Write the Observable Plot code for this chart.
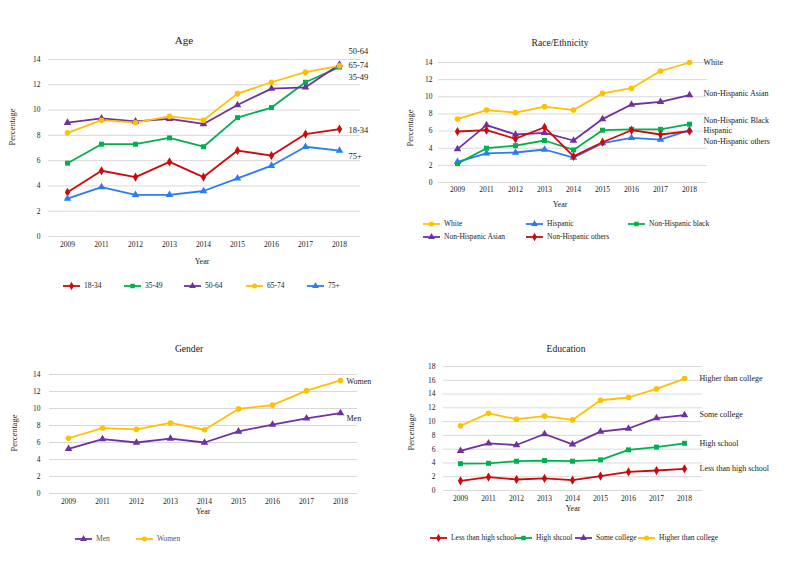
<!DOCTYPE html>
<html><head><meta charset="utf-8">
<script src="https://cdn.jsdelivr.net/npm/d3@7"></script>
<script src="https://cdn.jsdelivr.net/npm/@observablehq/plot@0.6"></script>
<style>
body{margin:0;background:#fff;}
#root{position:relative;width:800px;height:578px;font-family:"Liberation Serif","Times New Roman",serif;color:#1a1a1a;overflow:hidden;}
.abs{position:absolute;white-space:nowrap;transform:translate(-50%,-50%);line-height:1;}
.rot{transform:translate(-50%,-50%) rotate(-90deg);}
.panel{position:absolute;}
.leg{position:absolute;white-space:nowrap;line-height:1;font-size:7.5px;transform:translateY(-50%);}
</style></head>
<body><div id="root"></div>
<script>
const years = ["2009","2011","2012","2013","2014","2015","2016","2017","2018"];

const ageGroups = ["18-34","35-49","50-64","65-74","75+"];
const age18to34 = [3.5,5.2,4.7,5.9,4.7,6.8,6.4,8.1,8.5];
const age35to49 = [5.8,7.3,7.3,7.8,7.1,9.4,10.2,12.2,13.4];
const age50to64 = [9.0,9.35,9.1,9.3,8.9,10.4,11.7,11.8,13.6];
const age65to74 = [8.2,9.2,9.0,9.5,9.2,11.3,12.2,13.0,13.5];
const age75plus = [3.0,3.9,3.3,3.3,3.6,4.6,5.6,7.1,6.8];

const raceGroups = ["White","Hispanic","Non-Hispanic black","Non-Hispanic Asian","Non-Hispanic others"];
const raceLabels = ["White","Hispanic","Non-Hispanic Black","Non-Hispanic Asian","Non-Hispanic others"];
const raceWhite = [7.4,8.45,8.15,8.85,8.45,10.4,11.0,13.0,14.0];
const raceHispanic = [2.4,3.4,3.5,3.85,2.9,4.6,5.2,5.0,6.1];
const raceBlack = [2.2,4.0,4.3,4.9,3.8,6.1,6.2,6.2,6.8];
const raceAsian = [3.9,6.7,5.6,5.8,4.9,7.4,9.1,9.4,10.2];
const raceOthers = [5.95,6.1,5.1,6.45,3.05,4.7,6.1,5.6,6.0];

const genderGroups = ["Men","Women"];
const genderMen = [5.25,6.4,6.0,6.45,6.0,7.3,8.1,8.85,9.45];
const genderWomen = [6.5,7.7,7.55,8.3,7.5,9.95,10.4,12.1,13.3];

const eduGroups = ["Less than high school","High shcool","Some college","Higher than college"];
const eduLabels = ["Less than high school","High school","Some college","Higher than college"];
const eduLess = [1.4,1.95,1.6,1.75,1.5,2.1,2.7,2.9,3.15];
const eduHigh = [3.9,3.95,4.25,4.35,4.25,4.45,5.9,6.3,6.85];
const eduSome = [5.75,6.85,6.6,8.2,6.7,8.55,9.0,10.5,10.95];
const eduHigher = [9.4,11.2,10.35,10.8,10.25,13.1,13.5,14.75,16.25];

// styles
const RED="#CC0A0A", GREEN="#00B050", PURPLE="#7030A0", YELLOW="#FFC000", BLUE="#2B7BF5";
const FONT='"Liberation Serif","Times New Roman",serif';

const root = document.getElementById("root");

function makePanel(cfg) {
  const rows = [];
  cfg.series.forEach((s, i) => cfg.values[i].forEach((v, j) => rows.push({series: s, year: years[j], value: v})));
  const n = years.length;
  const labelMarks = cfg.series.map((s, i) => Plot.text(
    [{series: s, label: cfg.labels[i], year: years[n - 1], value: cfg.values[i][n - 1]}],
    {x: "year", y: "value", text: "label", textAnchor: "start", dx: cfg.labelDx, dy: cfg.labelDy[i],
     fontSize: cfg.labelFont, fill: "#1a1a1a"}));
  const yTicks = d3.range(0, cfg.yMax + 1, 2);
  const svg = Plot.plot({
    width: 400, height: cfg.height,
    marginTop: cfg.mt, marginBottom: cfg.mb, marginLeft: cfg.ml, marginRight: cfg.mr,
    style: {fontFamily: FONT, fontSize: "7.5px", color: "#1a1a1a", background: "transparent", overflow: "visible"},
    x: {type: "point", domain: years, range: cfg.xRange, padding: 0, label: null, tickSize: 0, tickPadding: cfg.xPad},
    y: {domain: [0, cfg.yMax], ticks: yTicks, label: null, tickSize: 0, tickPadding: cfg.yPad},
    color: {domain: cfg.series, range: cfg.colors},
    symbol: {domain: cfg.series, range: cfg.symbols},
    marks: [
      Plot.ruleY(yTicks, {stroke: "#d9d9d9", strokeWidth: 1}),
      Plot.line(rows, {x: "year", y: "value", z: "series", stroke: "series", strokeWidth: 1.8}),
      Plot.dot(rows, {x: "year", y: "value", fill: "series", symbol: "series", r: 2.8, stroke: "none"}),
      ...labelMarks
    ]
  });
  const div = document.createElement("div");
  div.className = "panel";
  div.style.left = cfg.left + "px";
  div.style.top = cfg.top + "px";
  div.appendChild(svg);
  root.appendChild(div);
}

function addText(txt, x, y, size, cls) {
  const d = document.createElement("div");
  d.className = "abs" + (cls ? " " + cls : "");
  d.style.left = x + "px"; d.style.top = y + "px"; d.style.fontSize = size + "px";
  d.textContent = txt;
  root.appendChild(d);
}

const symMap = {circle: d3.symbolCircle, square: d3.symbolSquare, triangle: d3.symbolTriangle, diamond: d3.symbolDiamond};
function addLegend(items, colors, symbols, positions, textColor) {
  items.forEach((name, i) => {
    const [x, y] = positions[i];
    const ns = "http://www.w3.org/2000/svg";
    const s = document.createElementNS(ns, "svg");
    s.setAttribute("width", 18); s.setAttribute("height", 10);
    s.style.position = "absolute"; s.style.left = x + "px"; s.style.top = (y - 5) + "px";
    const l = document.createElementNS(ns, "line");
    l.setAttribute("x1", 0); l.setAttribute("x2", 17); l.setAttribute("y1", 5); l.setAttribute("y2", 5);
    l.setAttribute("stroke", colors[i]); l.setAttribute("stroke-width", 1.8);
    s.appendChild(l);
    const p = document.createElementNS(ns, "path");
    p.setAttribute("d", d3.symbol(symMap[symbols[i]], 20)());
    p.setAttribute("transform", "translate(8.5,5)");
    p.setAttribute("fill", colors[i]);
    s.appendChild(p);
    root.appendChild(s);
    const t = document.createElement("div");
    t.className = "leg";
    t.style.left = (x + 21) + "px"; t.style.top = y + "px";
    if (textColor) t.style.color = textColor;
    t.textContent = name;
    root.appendChild(t);
  });
}

// Age
const ageColors = [RED, GREEN, PURPLE, YELLOW, BLUE];
const ageSymbols = ["diamond", "square", "triangle", "circle", "triangle"];
makePanel({
  series: ageGroups, labels: ageGroups,
  values: [age18to34, age35to49, age50to64, age65to74, age75plus],
  colors: ageColors, symbols: ageSymbols,
  left: 0, top: 0, height: 260, mt: 59, mb: 24, ml: 48, mr: 40,
  xRange: [66, 339], yMax: 14, yPad: 8, xPad: 5.5,
  labelDx: 9, labelDy: [1.5, 10, -13, -1, 6], labelFont: 8.5
});
addText("Age", 184, 40, 11);
addText("Year", 202, 262, 8);
addText("Percentage", 13, 127, 8.4, "rot");
addLegend(ageGroups, ageColors, ageSymbols, [[63,286],[124,286],[184,286],[246,286],[307,286]]);

// Race/Ethnicity
const raceColors = [YELLOW, BLUE, GREEN, PURPLE, RED];
const raceSymbols = ["circle", "triangle", "square", "triangle", "diamond"];
makePanel({
  series: raceGroups, labels: raceLabels,
  values: [raceWhite, raceHispanic, raceBlack, raceAsian, raceOthers],
  colors: raceColors, symbols: raceSymbols,
  left: 400, top: 0, height: 200, mt: 62, mb: 18, ml: 38, mr: 93,
  xRange: [53, 292], yMax: 14, yPad: 6, xPad: 4.5,
  labelDx: 14, labelDy: [0, 0, -4, -2, 10], labelFont: 8
});
addText("Race/Ethnicity", 560, 43, 9.6);
addText("Year", 560, 205, 8);
addText("Percentage", 411, 128, 8.4, "rot");
addLegend(raceGroups, raceColors, raceSymbols, [[423,224],[526,224],[628,224],[423,237],[526,237]]);

// Gender
const genderColors = [PURPLE, YELLOW];
const genderSymbols = ["triangle", "circle"];
makePanel({
  series: genderGroups, labels: genderGroups,
  values: [genderMen, genderWomen],
  colors: genderColors, symbols: genderSymbols,
  left: 0, top: 300, height: 210, mt: 74, mb: 17, ml: 49, mr: 43,
  xRange: [67, 340], yMax: 14, yPad: 9, xPad: 5.5,
  labelDx: 6, labelDy: [5, 1], labelFont: 8
});
addText("Gender", 189, 349, 9.6);
addText("Year", 203, 512, 8);
addText("Percentage", 15, 433, 8.4, "rot");
addLegend(genderGroups, genderColors, genderSymbols, [[75,539],[136,539]], "#555");

// Education
const eduColors = [RED, GREEN, PURPLE, YELLOW];
const eduSymbols = ["diamond", "square", "triangle", "circle"];
makePanel({
  series: eduGroups, labels: eduLabels,
  values: [eduLess, eduHigh, eduSome, eduHigher],
  colors: eduColors, symbols: eduSymbols,
  left: 400, top: 300, height: 205, mt: 66, mb: 15, ml: 43, mr: 98,
  xRange: [57, 287], yMax: 18, yPad: 8, xPad: 5.5,
  labelDx: 15, labelDy: [0, 0, -1, 0], labelFont: 8
});
addText("Education", 566, 349, 9.6);
addText("Year", 573, 509, 8);
addText("Percentage", 412, 432, 8.4, "rot");
addLegend(eduGroups, eduColors, eduSymbols, [[430,538],[515,538],[575,538],[638,538]]);
</script>
</body></html>
